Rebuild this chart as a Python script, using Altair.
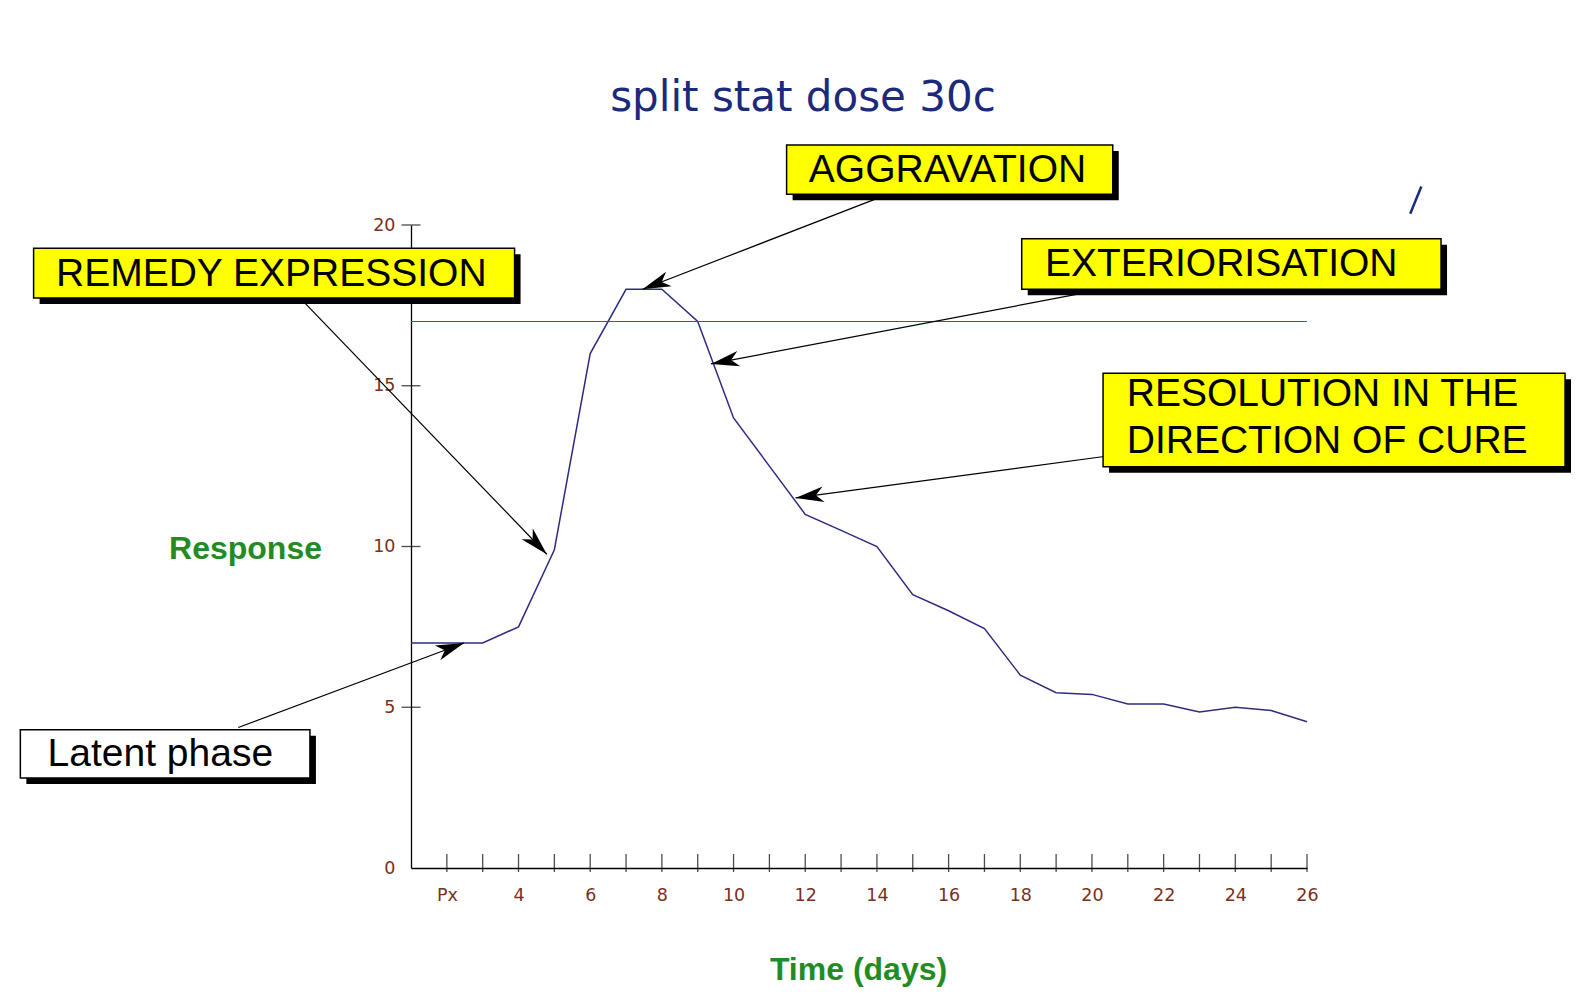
import math
import altair as alt
import pandas as pd

# ---------------- data ----------------
days = list(range(1, 27))
response = [7.0, 7.0, 7.0, 7.5, 9.9, 16.0, 18.0, 18.0, 17.0, 14.0, 12.5, 11.0, 10.5,
            10.0, 8.5, 8.0, 7.45, 6.0, 5.45, 5.4, 5.1, 5.1, 4.85, 5.0, 4.9, 4.55]
threshold = [17.0]
threshold_from = [1]
threshold_to = [26]

x_tick_values = list(range(2, 27))
x_label_values = list(range(2, 27, 2))
x_label_text = ["Px"] + [str(v) for v in range(4, 27, 2)]
y_tick_values = [5, 10, 15, 20]
y_label_values = [0, 5, 10, 15, 20]

title_text = "split stat dose 30c"
x_title = "Time (days)"
y_title = "Response"

box_kind = ["yellow", "yellow", "yellow", "yellow", "white"]
label_lines = ["REMEDY EXPRESSION", "AGGRAVATION", "EXTERIORISATION",
               "RESOLUTION IN THE", "DIRECTION OF CURE", "Latent phase"]

# annotation layout (data units)
box_x1 = [-9.53, 11.48, 18.04, 20.31, -9.90]
box_x2 = [3.89, 20.58, 29.74, 33.20, -1.82]
box_y1 = [19.28, 22.49, 19.57, 15.39, 4.30]
box_y2 = [17.73, 20.96, 18.00, 12.48, 2.80]
line_x = [-8.905, 12.10, 18.69, 20.97, 20.97, -9.14]
line_y = [18.49, 21.71, 18.80, 14.73, 13.28, 3.55]

arr_x1 = [-1.965, 13.99, 19.75, 20.34, -3.82]
arr_y1 = [17.58, 20.82, 17.88, 12.80, 4.37]
arr_x2 = [4.79, 7.46, 9.37, 11.73, 2.48]
arr_y2 = [9.76, 18.0, 15.68, 11.51, 7.0]

slash_x = [28.88]
slash_x2 = [29.19]
slash_y = [20.35]
slash_y2 = [21.2]

# ---------------- styles ----------------
W, H = 896, 643
NAVY = "#1b2a7a"
LINE = "#2d2d80"
HLINE = "#2f5f8f"
GREEN = "#228b22"
BROWN = "#7a3020"
FILL = {"yellow": "#ffff00", "white": "#ffffff"}
ARIAL = "Liberation Sans"

x_scale = alt.Scale(domain=[1, 26], nice=False, zero=False)
y_scale = alt.Scale(domain=[0, 20], nice=False, zero=False)

sx = W / 25.0
sy = H / 20.0
angles = [math.degrees(math.atan2(-(b2 - b1) * sy, (a2 - a1) * sx)) % 360
          for a1, b1, a2, b2 in zip(arr_x1, arr_y1, arr_x2, arr_y2)]

label_expr = ("[" + ",".join("'%s'" % t for t in x_label_text) + "][indexof(["
              + ",".join(str(v) for v in x_label_values) + "], datum.value)]")

line_df = pd.DataFrame({"day": days, "response": response})
box_df = pd.DataFrame({
    "fill": [FILL[k] for k in box_kind],
    "bx1": box_x1, "bx2": box_x2, "by1": box_y1, "by2": box_y2,
})
txt_df = pd.DataFrame({"text": label_lines, "tx": line_x, "ty": line_y})
arr_df = pd.DataFrame({"x1": arr_x1, "y1": arr_y1, "x2": arr_x2, "y2": arr_y2, "ang": angles})
thr_df = pd.DataFrame({"x1": threshold_from, "x2": threshold_to, "y": threshold})
xt_df = pd.DataFrame({"t": x_tick_values, "base": [0] * len(x_tick_values)})
yt_df = pd.DataFrame({"t": y_tick_values, "base": [1] * len(y_tick_values)})
slash_df = pd.DataFrame({"x1": slash_x, "x2": slash_x2, "y1": slash_y, "y2": slash_y2})
title_df = pd.DataFrame({"t": [title_text]})


def X(f, **kw):
    return alt.X(f, scale=x_scale, **kw)


def Y(f, **kw):
    return alt.Y(f, scale=y_scale, **kw)


main_line = alt.Chart(line_df).mark_line(color=LINE, strokeWidth=1.5).encode(
    x=alt.X("day:Q", scale=x_scale, axis=alt.Axis(
        values=x_label_values, labelExpr=label_expr, tickSize=0, grid=False,
        domainColor="black", domainWidth=1.3, labelFlush=False, labelOverlap=False,
        labelFont="DejaVu Sans", labelFontSize=17.5, labelColor=BROWN, labelPadding=18,
        title=x_title, titleFont=ARIAL, titleFontSize=32, titleFontWeight="bold",
        titleColor=GREEN, titleX=447, titleY=111, titleBaseline="alphabetic",
        titleAlign="center")),
    y=alt.Y("response:Q", scale=y_scale, axis=alt.Axis(
        values=y_label_values, tickSize=0, grid=False,
        domainColor="black", domainWidth=1.3, labelFlush=False, labelOverlap=False,
        labelFont="DejaVu Sans", labelFontSize=17.5, labelColor=BROWN, labelPadding=16,
        title=y_title, titleFont=ARIAL, titleFontSize=32, titleFontWeight="bold",
        titleColor=GREEN, titleAngle=0, titleX=-166, titleY=333,
        titleBaseline="alphabetic", titleAlign="center")),
)

hline = alt.Chart(thr_df).mark_rule(color=HLINE, strokeWidth=1.1).encode(
    x=X("x1:Q"), x2="x2:Q", y=Y("y:Q"))

xticks = alt.Chart(xt_df).mark_tick(orient="vertical", size=18, thickness=1.3,
                                    color="black", yOffset=-5).encode(
    x=X("t:Q"), y=Y("base:Q"))
yticks = alt.Chart(yt_df).mark_tick(orient="horizontal", size=19, thickness=1.3,
                                    color="black").encode(
    y=Y("t:Q"), x=X("base:Q"))

shadows = alt.Chart(box_df).mark_rect(color="black", xOffset=6, x2Offset=6,
                                      yOffset=6, y2Offset=6).encode(
    x=X("bx1:Q"), x2="bx2:Q", y=Y("by1:Q"), y2="by2:Q")
boxes = alt.Chart(box_df).mark_rect(stroke="black", strokeWidth=1.5).encode(
    x=X("bx1:Q"), x2="bx2:Q", y=Y("by1:Q"), y2="by2:Q",
    fill=alt.Fill("fill:N", scale=None))
texts = alt.Chart(txt_df).mark_text(align="left", baseline="middle", font=ARIAL,
                                    fontSize=39, color="black").encode(
    x=X("tx:Q"), y=Y("ty:Q"), text="text:N")

arrows = alt.Chart(arr_df).mark_rule(color="black", strokeWidth=1.2).encode(
    x=X("x1:Q"), y=Y("y1:Q"), x2="x2:Q", y2="y2:Q")
heads = alt.Chart(arr_df).mark_point(shape="M0,0L-2,-0.55L-1.45,0L-2,0.55Z", filled=True,
                                     size=800, color="black", opacity=1,
                                     strokeWidth=0).encode(
    x=X("x2:Q"), y=Y("y2:Q"), angle=alt.Angle("ang:Q", scale=None))

slash = alt.Chart(slash_df).mark_rule(color=NAVY, strokeWidth=2.5).encode(
    x=X("x1:Q"), y=Y("y1:Q"), x2="x2:Q", y2="y2:Q")

title = alt.Chart(title_df).mark_text(font="DejaVu Sans", fontSize=42, color=NAVY,
                                      align="center", baseline="alphabetic").encode(
    text="t:N", x=alt.value(392), y=alt.value(-114))

chart = alt.layer(
    main_line, hline, xticks, yticks, arrows, shadows, boxes, texts, heads, slash, title
).properties(
    width=W, height=H,
    autosize=alt.AutoSizeParams(type="none"),
    padding={"left": 403, "top": 217, "right": 264, "bottom": 130},
    background="white",
).configure_view(strokeWidth=0)

chart.save("out.html", embed_options={"renderer": "svg", "actions": False})
